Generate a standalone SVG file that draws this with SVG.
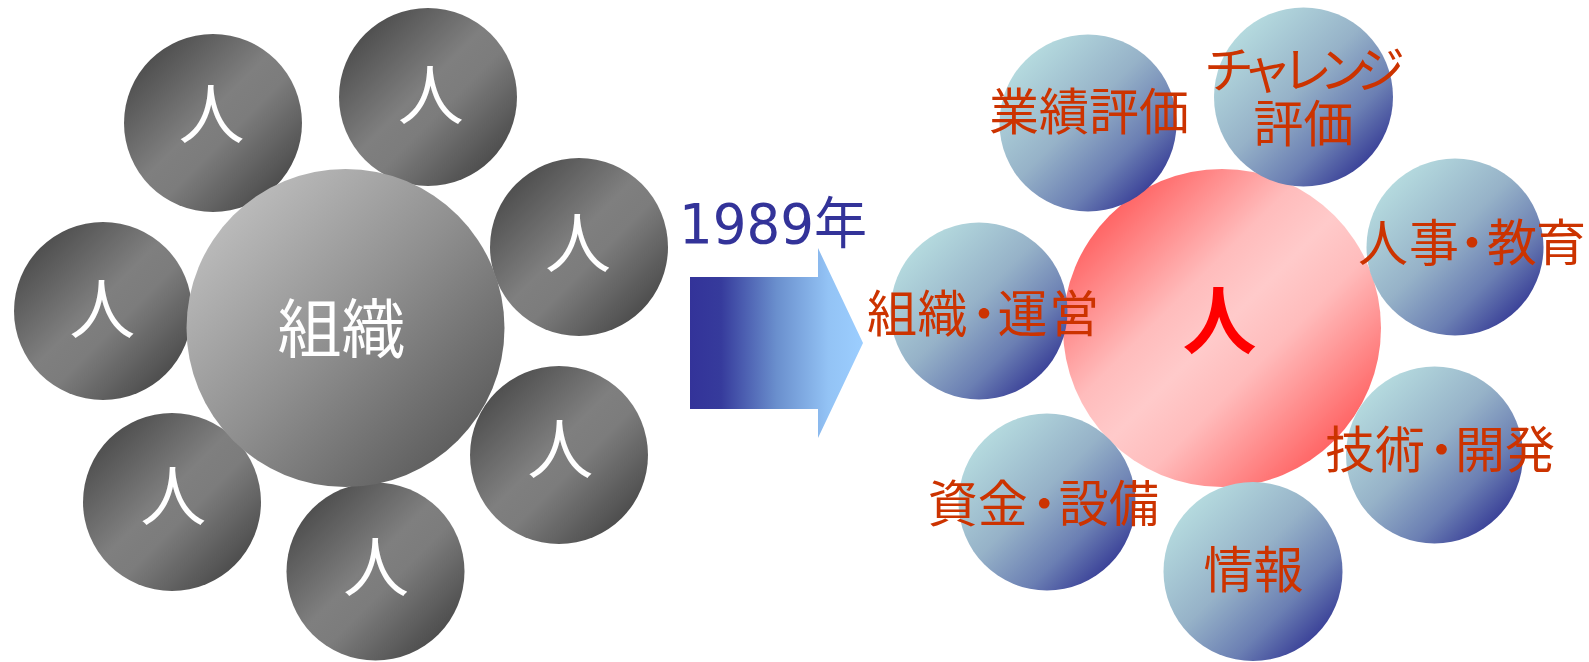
<svg xmlns="http://www.w3.org/2000/svg" width="1589" height="662" viewBox="0 0 1589 662">
  <defs>
    <linearGradient id="gPerson" x1="0.12" y1="0.12" x2="0.88" y2="0.88">
      <stop offset="0" stop-color="#4c4c4c"/>
      <stop offset="0.45" stop-color="#7f7f7f"/>
      <stop offset="0.6" stop-color="#7c7c7c"/>
      <stop offset="1" stop-color="#4a4a4a"/>
    </linearGradient>
    <linearGradient id="gOrg" x1="0.12" y1="0.12" x2="0.88" y2="0.88">
      <stop offset="0" stop-color="#bdbdbd"/>
      <stop offset="0.5" stop-color="#8f8f8f"/>
      <stop offset="1" stop-color="#5c5c5c"/>
    </linearGradient>
    <linearGradient id="gBlue" x1="0.12" y1="0.12" x2="0.88" y2="0.88">
      <stop offset="0" stop-color="#b7dde0"/>
      <stop offset="0.45" stop-color="#96b2c8"/>
      <stop offset="0.75" stop-color="#6b7fb3"/>
      <stop offset="1" stop-color="#353a95"/>
    </linearGradient>
    <linearGradient id="gPink" x1="0.12" y1="0.12" x2="0.88" y2="0.88">
      <stop offset="0" stop-color="#ff5c5c"/>
      <stop offset="0.35" stop-color="#ffbcbc"/>
      <stop offset="0.5" stop-color="#ffcaca"/>
      <stop offset="0.65" stop-color="#ffbcbc"/>
      <stop offset="1" stop-color="#ff5c5c"/>
    </linearGradient>
    <linearGradient id="gArrow" x1="0" y1="0" x2="1" y2="0">
      <stop offset="0" stop-color="#333399"/>
      <stop offset="0.18" stop-color="#363b9c"/>
      <stop offset="0.5" stop-color="#6a8fcd"/>
      <stop offset="0.8" stop-color="#93c3f5"/>
      <stop offset="1" stop-color="#9cceff"/>
    </linearGradient>
  </defs>
  <style>
    .person { fill: url(#gPerson); }
    .org { fill: url(#gOrg); }
    .blue { fill: url(#gBlue); }
    .pink { fill: url(#gPink); }
    .wt { font-family: "Noto Sans CJK JP", sans-serif; fill: #ffffff; text-anchor: middle; }
    .lbl { font-family: "Noto Sans CJK JP", sans-serif; fill: #cc3300; font-size: 50px; }
    .mid { text-anchor: middle; }
    .year { font-family: "DejaVu Sans", "Noto Sans CJK JP", sans-serif; fill: #333399; font-size: 56px; }
  </style>

  <!-- Left: people around organisation -->
  <g id="left-person-1"><circle class="person" cx="213" cy="123" r="89"/><text class="wt" x="211.4" y="138" font-size="66">人</text></g>
  <g id="left-person-2"><circle class="person" cx="428" cy="97" r="89"/><text class="wt" x="430.8" y="119" font-size="66">人</text></g>
  <g id="left-person-3"><circle class="person" cx="579" cy="247" r="89"/><text class="wt" x="577.9" y="267" font-size="66">人</text></g>
  <g id="left-person-4"><circle class="person" cx="103" cy="311" r="89"/><text class="wt" x="102.2" y="333" font-size="66">人</text></g>
  <g id="left-person-5"><circle class="person" cx="172" cy="502" r="89"/><text class="wt" x="173.2" y="520" font-size="66">人</text></g>
  <g id="left-person-6"><circle class="person" cx="375.5" cy="571.5" r="89"/><text class="wt" x="376.1" y="591" font-size="66">人</text></g>
  <g id="left-person-7"><circle class="person" cx="559" cy="455" r="89"/><text class="wt" x="560.3" y="472.6" font-size="66">人</text></g>
  <g id="left-organization"><circle class="org" cx="345.5" cy="328" r="159"/><text class="wt" x="341.5" y="352" font-size="64">組織</text></g>

  <!-- Transition arrow -->
  <g id="connectors">
    <polygon points="690,277 818,277 818,248 863,343 818,438 818,409 690,409" fill="url(#gArrow)"/>
  </g>
  <g id="year-label"><text class="year" x="679" y="243" textLength="188" lengthAdjust="spacingAndGlyphs">1989年</text></g>

  <!-- Right: person at center -->
  <g id="right-person"><circle class="pink" cx="1222" cy="328" r="159"/><text x="1219.5" y="348" font-family="Noto Sans CJK JP, sans-serif" font-weight="bold" font-size="74" fill="#ff0000" text-anchor="middle">人</text></g>

  <g id="node-gyoseki"><circle class="blue" cx="1088" cy="123" r="88.5"/><text class="lbl mid" x="1089" y="129.5">業績評価</text></g>
  <g id="node-challenge"><circle class="blue" cx="1303.5" cy="97" r="89.5"/><text class="lbl"><tspan x="1204 1242 1282 1319 1355" y="88">チャレンジ</tspan><tspan class="mid" x="1303.5" y="142" text-anchor="middle">評価</tspan></text></g>
  <g id="node-jinji"><circle class="blue" cx="1455" cy="247" r="88.5"/><text class="lbl" x="1358 1409 1447 1487 1536" y="261">人事・教育</text></g>
  <g id="node-soshiki"><circle class="blue" cx="979" cy="311" r="88.5"/><text class="lbl" x="867 917.5 959 997.5 1049" y="331.5">組織・運営</text></g>
  <g id="node-shikin"><circle class="blue" cx="1047" cy="502" r="88.5"/><text class="lbl" x="927.8 977.8 1019.3 1058.8 1109" y="521.5">資金・設備</text></g>
  <g id="node-joho"><circle class="blue" cx="1253" cy="571.5" r="89.5"/><text class="lbl mid" x="1253.5" y="587.5">情報</text></g>
  <g id="node-gijutsu"><circle class="blue" cx="1434.5" cy="455" r="88.5"/><text class="lbl" x="1325 1375 1416.5 1455 1505" y="468">技術・開発</text></g>
</svg>
